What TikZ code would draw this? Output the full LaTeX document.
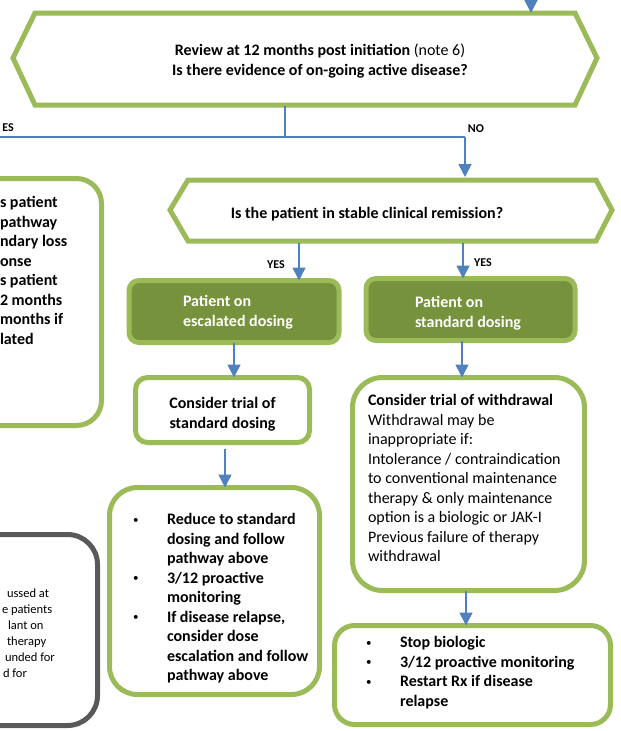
\documentclass[tikz,border=0pt]{standalone}
\usepackage{fontspec}
\setmainfont{Carlito}
\usetikzlibrary{arrows.meta}
\definecolor{gbord}{RGB}{155,187,89}
\definecolor{dgreen}{RGB}{118,146,60}
\definecolor{ablue}{RGB}{79,129,189}
\definecolor{gdark}{RGB}{89,89,89}
\newcommand{\mainsize}{\fontsize{16pt}{19.5pt}\selectfont}
\newcommand{\smallsize}{\fontsize{12.5pt}{16pt}\selectfont}
\newcommand{\labsize}{\fontsize{12pt}{14pt}\selectfont}
\newcommand{\bul}{\makebox[35pt][l]{\hspace*{1pt}\raisebox{1.2pt}{\fontsize{11pt}{11pt}\selectfont\mdseries\textbullet}}}
\newcommand{\ind}{\hspace*{35pt}}
\begin{document}
\begin{tikzpicture}[x=1pt,y=-1pt,
  hexline/.style={draw=gbord,line width=5pt,fill=white},
  gbox/.style={draw=gbord,line width=5pt,fill=white,inner sep=0pt,outer sep=0pt},
  dbox/.style={draw=gbord,line width=5pt,fill=dgreen,rounded corners=10pt,inner sep=0pt,outer sep=0pt},
  greybox/.style={draw=gdark,line width=5pt,fill=white,rounded corners=30pt,inner sep=0pt,outer sep=0pt},
  conn/.style={draw=ablue,line width=1.5pt},
  arr/.style={conn,-{Triangle[width=13pt,length=13pt]}},
  txt/.style={inner sep=0pt,outer sep=0pt,font=\mainsize,align=left,anchor=north west},
  lab/.style={inner sep=0pt,font=\labsize\bfseries,anchor=base}
]
\useasboundingbox (0,0) rectangle (621,731);
\clip (0,0) rectangle (621,731);

% hexagons
\draw[hexline] (13,58) -- (35,13) -- (575,13) -- (597,58) -- (575,105) -- (35,105) -- cycle;
\node[txt,anchor=north,align=center] (h1) at (320,41.9)
  {\strut\textbf{Review at 12 months post initiation} (note 6)\\\textbf{Is there evidence of on-going active disease?}};
\draw[hexline] (170,210) -- (188,180) -- (596,180) -- (612,210) -- (596,241) -- (188,241) -- cycle;
\node[inner sep=0pt,font=\mainsize\bfseries,anchor=base] (h2) at (367,218) {Is the patient in stable clinical remission?};

% left cut-off boxes
\node[gbox,rounded corners=25pt,minimum width=161.5pt,minimum height=247pt] (lbox) at (20.75,302) {};
\node[txt,font=\mainsize\bfseries] (lboxt) at (0,193.85)
  {\strut s patient\\pathway\\ndary loss\\onse\\s patient\\2 months\\months if\\lated};
\node[greybox,minimum width=157.5pt,minimum height=191pt] (gbx) at (18.75,630) {};
\node[txt,font=\smallsize] (gbxt) at (2,586.3)
  {\strut\hspace*{5pt}ussed at\\e patients\\\hspace*{6pt}lant on\\\hspace*{5pt}therapy\\\hspace*{3pt}unded for\\\hspace*{1pt}d for};

% dosing boxes
\node[dbox,minimum width=210pt,minimum height=62pt] (esc) at (234,311.5) {};
\node[txt,text=white,font=\mainsize\bfseries] (esct) at (183,292.9) {\strut Patient on\\escalated dosing};
\node[dbox,minimum width=209pt,minimum height=62pt] (std) at (470.5,309.5) {};
\node[txt,text=white,font=\mainsize\bfseries] (stdt) at (415,293.9) {\strut Patient on\\standard dosing};

% consider standard dosing
\node[gbox,rounded corners=12pt,minimum width=174pt,minimum height=65pt] (cons) at (222.5,410) {};
\node[txt,anchor=north,align=center,font=\mainsize\bfseries] (const) at (222.5,394.9) {\strut Consider trial of\\standard dosing};

% reduce box
\node[gbox,rounded corners=28pt,minimum width=210pt,minimum height=207pt] (red) at (214.5,591) {};
\node[txt,font=\mainsize\bfseries] (redt) at (132,510.85)
  {\strut\bul Reduce to standard\\\ind dosing and follow\\\ind pathway above\\\bul 3/12 proactive\\\ind monitoring\\\bul If disease relapse,\\\ind consider dose\\\ind escalation and follow\\\ind pathway above};

% withdrawal box
\node[gbox,rounded corners=30pt,minimum width=232pt,minimum height=213pt] (wd) at (468.5,484) {};
\node[txt] (wdt) at (368,391.85)
  {\strut\textbf{Consider trial of withdrawal}\\Withdrawal may be\\inappropriate if:\\Intolerance / contraindication\\to conventional maintenance\\therapy \& only maintenance\\option is a biologic or JAK-I\\Previous failure of therapy\\withdrawal};

% stop box
\node[gbox,rounded corners=20pt,minimum width=276pt,minimum height=99pt] (stop) at (472.5,675) {};
\node[txt,font=\mainsize\bfseries] (stopt) at (365,633.85)
  {\strut\bul Stop biologic\\\bul 3/12 proactive monitoring\\\bul Restart Rx if disease\\\ind relapse};

% connectors
\coordinate (topin) at (531,0);
\coordinate (h1top) at (531,13);
\draw[arr] (topin) -- (h1top);
\coordinate (h1out) at (285,106);
\coordinate (split) at (285,137);
\coordinate (yesend) at (0,137);
\coordinate (nocorner) at (465,137);
\coordinate (h2in) at (465,177);
\draw[conn] (h1out) -- (split);
\draw[conn] (yesend) -- (nocorner);
\draw[arr] (nocorner) -- (h2in);
\coordinate (h2l) at (299,243);
\draw[arr] (h2l) -- (h2l |- esc.north);
\coordinate (h2r) at (463,243);
\draw[arr] (h2r) -- (h2r |- std.north);
\draw[arr] (esc.south) -- (esc.south |- cons.north);
\coordinate (stdout) at (462,340.5);
\draw[arr] (stdout) -- (stdout |- wd.north);
\coordinate (consout) at (225,449);
\draw[arr] (consout) -- (consout |- red.north);
\coordinate (wdout) at (466,590.5);
\draw[arr] (wdout) -- (wdout |- stop.north);

% labels
\node[lab,anchor=base east] (yes0) at (14,131.5) {ES};
\node[lab] (no1) at (476,132.5) {NO};
\node[lab] (yes1) at (276,268.5) {YES};
\node[lab] (yes2) at (483,266.5) {YES};
\end{tikzpicture}
\end{document}
